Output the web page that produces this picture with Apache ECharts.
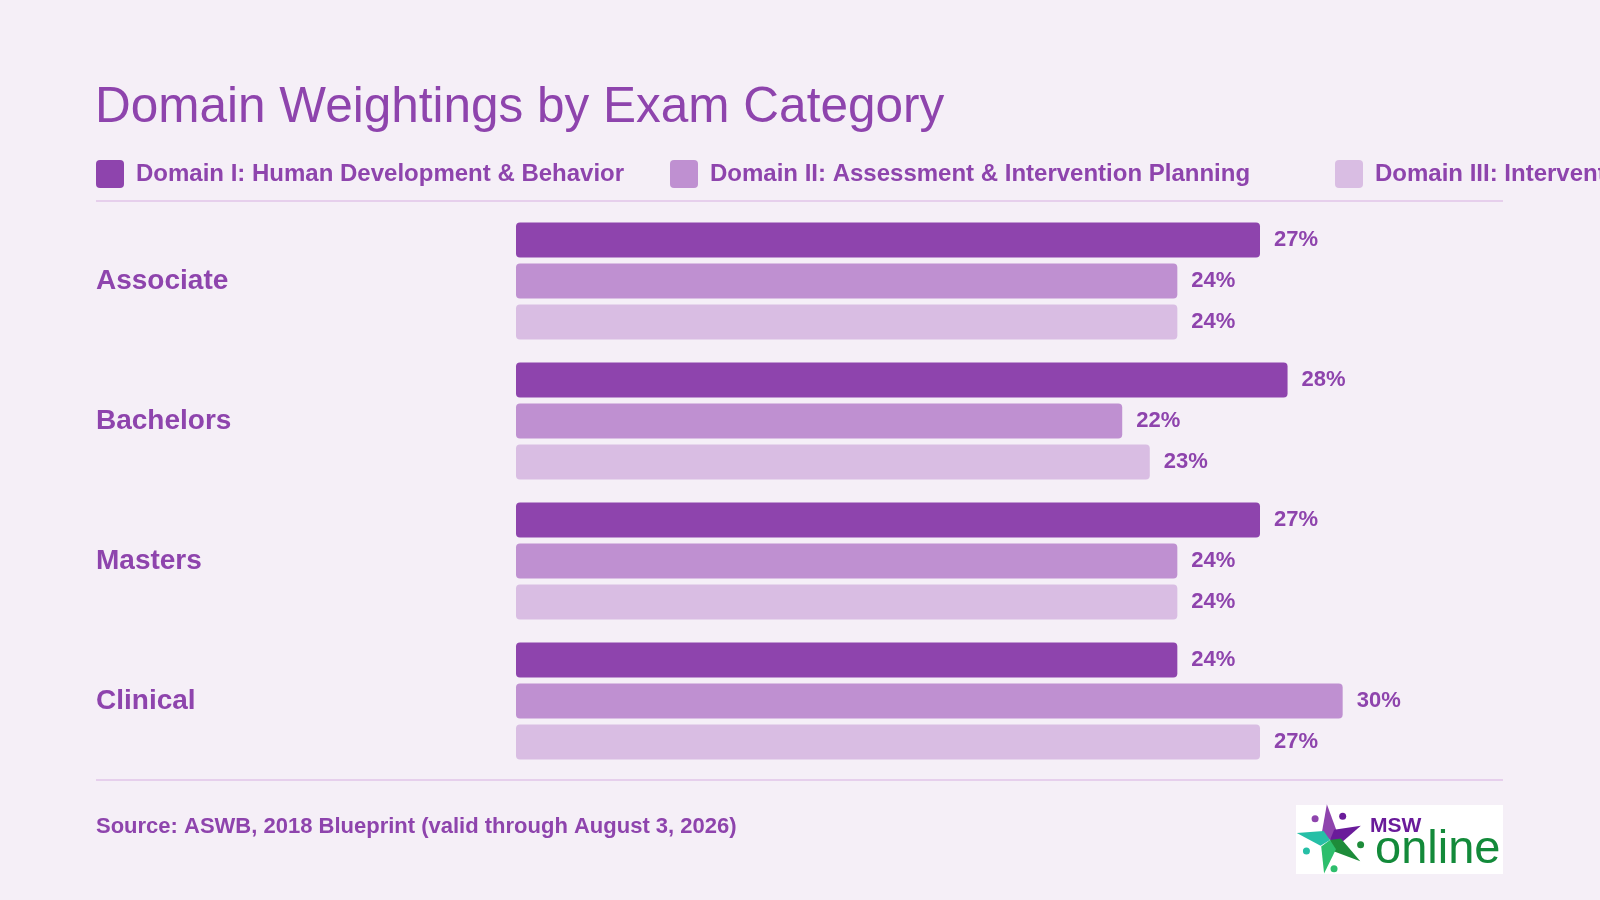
<!DOCTYPE html>
<html>
<head>
<meta charset="utf-8">
<script src="https://cdn.jsdelivr.net/npm/echarts@6/dist/echarts.min.js"></script>
<style>
  html, body { margin: 0; padding: 0; background: #F5EFF7; }
  #chart { width: 1600px; height: 900px; }
</style>
</head>
<body>
<div id="chart"></div>
<script>
const categories = ['Associate', 'Bachelors', 'Masters', 'Clinical'];
const domainNames = [
  'Domain I: Human Development & Behavior',
  'Domain II: Assessment & Intervention Planning',
  'Domain III: Interventions with Clients/Constituencies'
];
const domain1 = [27, 28, 27, 24];
const domain2 = [24, 22, 24, 30];
const domain3 = [24, 23, 24, 27];

const textColor = '#8E44AD';
const colors = ['#8E44AD', '#BF90D1', '#D9BDE3'];
const font = '"Liberation Sans", Helvetica, Arial, sans-serif';

const chart = echarts.init(document.getElementById('chart'));

function legendFor(name, left) {
  return {
    data: [name],
    left: left,
    top: 160,
    padding: 0,
    itemWidth: 28,
    itemHeight: 28,
    icon: 'path://M4,0 L24,0 Q28,0 28,4 L28,24 Q28,28 24,28 L4,28 Q0,28 0,24 L0,4 Q0,0 4,0 Z',
    selectedMode: false,
    textStyle: {
      color: textColor,
      fontFamily: font,
      fontWeight: 'bold',
      fontSize: 24,
      padding: [0, 0, 0, 7]
    }
  };
}

function barSeries(name, data, color) {
  return {
    name: name,
    type: 'bar',
    data: data,
    barWidth: 35,
    barGap: '17%',
    itemStyle: { color: color, borderRadius: 4 },
    label: {
      show: true,
      position: 'right',
      distance: 14,
      formatter: '{c}%',
      color: textColor,
      fontFamily: font,
      fontWeight: 'bold',
      fontSize: 22
    }
  };
}

// little MSW Online logo, bottom right
const cx = 1330, cy = 840;
const arms = [
  { a: -95, len: 36, head: -125, hr: 26, c: '#8E44AD' },
  { a: -25, len: 34, head: -62, hr: 27, c: '#6A1B9A' },
  { a: 35, len: 37, head: 9, hr: 31, c: '#1E8C3A' },
  { a: 100, len: 34, head: 82, hr: 29, c: '#2DBE6C' },
  { a: 192, len: 34, head: 155, hr: 26, c: '#26BFA6' }
];
const logoParts = [{
  type: 'rect',
  shape: { x: 1296, y: 805, width: 207, height: 69 },
  style: { fill: '#FFFFFF' }
}];
arms.forEach(function (arm) {
  const r = arm.a * Math.PI / 180;
  const tip = [cx + Math.cos(r) * arm.len, cy + Math.sin(r) * arm.len];
  const l = [cx + Math.cos(r - 0.75) * 11, cy + Math.sin(r - 0.75) * 11];
  const rr = [cx + Math.cos(r + 0.75) * 11, cy + Math.sin(r + 0.75) * 11];
  logoParts.push({ type: 'polygon', shape: { points: [tip, l, [cx, cy], rr] }, style: { fill: arm.c } });
  const h = arm.head * Math.PI / 180;
  logoParts.push({
    type: 'circle',
    shape: { cx: cx + Math.cos(h) * arm.hr, cy: cy + Math.sin(h) * arm.hr, r: 3.5 },
    style: { fill: arm.c }
  });
});
logoParts.push({
  type: 'text',
  style: { x: 1370, y: 816, text: 'MSW', fill: '#6A1B9A', font: 'bold 21px ' + font }
});
logoParts.push({
  type: 'text',
  style: { x: 1375, y: 827, text: 'online', fill: '#138A3A', font: '47px ' + font }
});

chart.setOption({
  backgroundColor: '#F5EFF7',
  animation: false,
  title: {
    text: 'Domain Weightings by Exam Category',
    left: 90,
    top: 78,
    textStyle: {
      color: textColor,
      fontFamily: font,
      fontWeight: 'normal',
      fontSize: 49.5
    }
  },
  legend: [
    legendFor(domainNames[0], 96),
    legendFor(domainNames[1], 670),
    legendFor(domainNames[2], 1335)
  ],
  grid: { left: 516, top: 211, width: 992, height: 560 },
  xAxis: {
    type: 'value',
    min: 0,
    max: 36,
    show: false
  },
  yAxis: {
    type: 'category',
    data: categories,
    inverse: true,
    axisLine: { show: false },
    axisTick: { show: false },
    axisLabel: {
      align: 'left',
      margin: 420,
      color: textColor,
      fontFamily: font,
      fontWeight: 'bold',
      fontSize: 28
    }
  },
  series: [
    barSeries(domainNames[0], domain1, colors[0]),
    barSeries(domainNames[1], domain2, colors[1]),
    barSeries(domainNames[2], domain3, colors[2])
  ],
  graphic: [
    {
      type: 'line',
      shape: { x1: 96, y1: 201, x2: 1503, y2: 201 },
      style: { stroke: '#E6CFEC', lineWidth: 2 }
    },
    {
      type: 'line',
      shape: { x1: 96, y1: 780, x2: 1503, y2: 780 },
      style: { stroke: '#E6CFEC', lineWidth: 2 }
    },
    {
      type: 'text',
      style: {
        x: 96,
        y: 816,
        text: 'Source: ASWB, 2018 Blueprint (valid through August 3, 2026)',
        fill: textColor,
        font: 'bold 22px ' + font
      }
    },
    { type: 'group', children: logoParts }
  ]
});
</script>
</body>
</html>
